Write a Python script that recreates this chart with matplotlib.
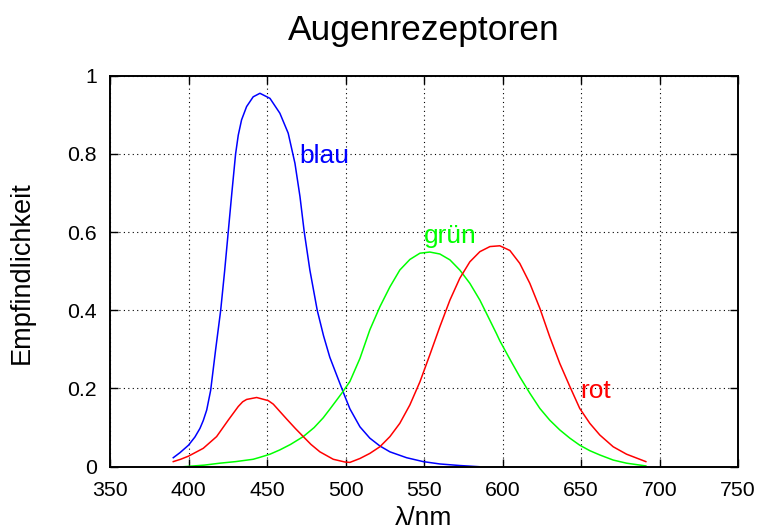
import matplotlib
matplotlib.use("Agg")
import matplotlib.pyplot as plt

plt.rcParams['font.family'] = ['Liberation Sans', 'DejaVu Sans']

# Data (wavelength in nm, sensitivity)
blau_x = [390.3, 394.6, 400, 404.1, 407.3, 409.4, 411.6, 414.1, 417.3, 420.5, 423, 425.3,
          427.6, 430, 431.7, 433.8, 437, 441.2, 445.5, 451.9, 458.2, 463.5, 467.8, 471,
          473.7, 477.3, 482, 486, 490, 494.3, 499.6, 502.8, 509.2, 515.5, 521.9, 528.3, 538.9,
          549.5, 560.1, 572.8, 585]
blau_y = [0.023, 0.036, 0.055, 0.076, 0.098, 0.118, 0.145, 0.195, 0.3, 0.4, 0.5, 0.6,
          0.7, 0.8, 0.848, 0.887, 0.921, 0.946, 0.955, 0.942, 0.904, 0.853, 0.776, 0.691,
          0.601, 0.503, 0.4, 0.335, 0.28, 0.235, 0.18, 0.148, 0.102, 0.073, 0.053, 0.038, 0.023,
          0.013, 0.007, 0.003, 0.0]

gruen_x = [397, 410, 420, 430, 441.2, 445.5, 451.9, 458.2, 465, 473.1, 480, 485.8, 490,
           494.3, 498, 502.8, 509.2, 515.5, 521.9, 528.3, 534.6, 541, 547.4, 553.7, 560.1,
           566.5, 572.8, 579.2, 585.6, 589.8, 596.2, 598.3, 604.7, 611, 617.4, 623.8, 630.1,
           636.5, 642.9, 649.2, 655.6, 662, 670.5, 679, 691.3]
gruen_y = [0.0, 0.004, 0.009, 0.013, 0.019, 0.024, 0.032, 0.043, 0.057, 0.077, 0.1, 0.125, 0.147,
           0.17, 0.19, 0.218, 0.277, 0.35, 0.409, 0.46, 0.503, 0.53, 0.546, 0.549, 0.544,
           0.529, 0.503, 0.469, 0.426, 0.392, 0.34, 0.322, 0.275, 0.23, 0.188, 0.149, 0.119,
           0.094, 0.073, 0.055, 0.041, 0.03, 0.017, 0.009, 0.002]

rot_x = [390.3, 395, 400, 409.4, 417.9, 425.3, 431.7, 434.5, 437, 443.4, 450.8, 454, 462.5, 468,
         473.1, 478, 483.7, 492.2, 499.6, 502.8, 509.2, 515.5, 521.9, 528.3, 534.6, 541,
         547.4, 553.7, 560.1, 566.5, 572.8, 579.2, 585.6, 592, 598.3, 604.7, 611, 617.4,
         623.8, 630.1, 636.5, 642.9, 649.2, 655.6, 662, 670.5, 679, 691.3]
rot_y = [0.013, 0.019, 0.027, 0.047, 0.077, 0.119, 0.154, 0.166, 0.172, 0.177, 0.169, 0.16, 0.122, 0.098,
         0.077, 0.057, 0.038, 0.019, 0.012, 0.011, 0.021, 0.034, 0.051, 0.077, 0.111, 0.158,
         0.217, 0.286, 0.358, 0.426, 0.482, 0.524, 0.55, 0.563, 0.565, 0.553, 0.52, 0.469,
         0.405, 0.332, 0.264, 0.205, 0.149, 0.111, 0.081, 0.051, 0.032, 0.013]

xticks = [350, 400, 450, 500, 550, 600, 650, 700, 750]
yticks = [0, 0.2, 0.4, 0.6, 0.8, 1.0]
ytick_labels = ['0', '0.2', '0.4', '0.6', '0.8', '1']

W, H = 759, 531
fig = plt.figure(figsize=(W / 100, H / 100), dpi=100)
ax = fig.add_axes([110 / W, 1 - 466.7 / H, (738 - 110) / W, (466.7 - 75.7) / H])

ax.plot(blau_x, blau_y, color='#0000ff', lw=1.1, solid_joinstyle='round')
ax.plot(gruen_x, gruen_y, color='#00ff00', lw=1.1, solid_joinstyle='round')
ax.plot(rot_x, rot_y, color='#ff0000', lw=1.1, solid_joinstyle='round')

ax.set_xlim(350, 750)
ax.set_ylim(0, 1)
ax.set_xticks(xticks)
ax.set_xticklabels([str(t) for t in xticks])
ax.set_yticks(yticks)
ax.set_yticklabels(ytick_labels)
ax.tick_params(direction='in', length=5.8, width=1, top=True, right=True,
               labelsize=15.3, colors='black')
ax.tick_params(axis='x', pad=10.5)
ax.tick_params(axis='y', pad=9.5)
ax.grid(True, linestyle=(0, (1, 3)), color='black', lw=0.8)
for s in ax.spines.values():
    s.set_linewidth(1.4)

ax.text(470.5, 0.776, 'blau', color='#0000ff', fontsize=19, va='baseline', ha='left')
ax.text(550, 0.573, 'grün', color='#00ff00', fontsize=19, va='baseline', ha='left')
ax.text(649.7, 0.175, 'rot', color='#ff0000', fontsize=19, va='baseline', ha='left')

fig.text(424 / W, 1 - 40 / H, 'Augenrezeptoren', fontsize=25.5, ha='center', va='baseline')
fig.text(424 / W, 1 - 525 / H, 'λ/nm', fontsize=19, ha='center', va='baseline')
fig.text(22 / W, 1 - 273 / H, 'Empfindlichkeit', fontsize=19.5, ha='center', va='center',
         rotation=90)

fig.savefig('out.png', dpi=100)
